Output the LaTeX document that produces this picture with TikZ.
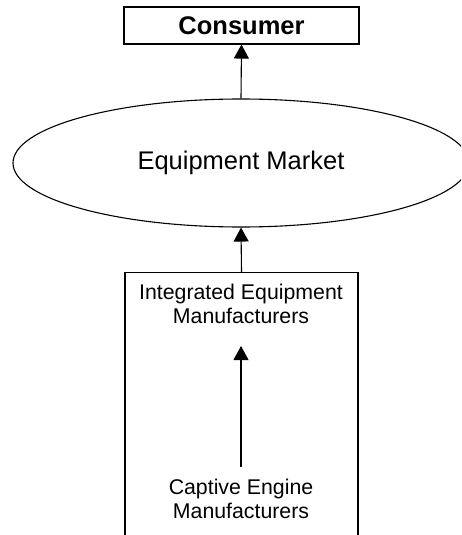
\documentclass[tikz,border=0pt]{standalone}
\usepackage{fontspec}
\setmainfont{Liberation Sans}
\usetikzlibrary{arrows.meta,shapes.geometric}
\tikzset{
  boxline/.style={draw=black, line width=1.1pt},
  conn/.style={line width=1.1pt, -{Triangle[length=14pt,width=15pt]}},
  bigfont/.style={font=\fontsize{25.5}{29}\selectfont},
  smallfont/.style={font=\fontsize{21.3}{24}\selectfont},
}
\begin{document}
\begin{tikzpicture}[x=1pt,y=-1pt]
\useasboundingbox (0,0) rectangle (461,535);
\clip (0,0) rectangle (461,535);
\node[boxline, rectangle, minimum width=235pt, minimum height=37pt, inner sep=0pt, bigfont]
  (consumer) at (241.5,25.5) {\textbf{Consumer}};
\node[boxline, ellipse, minimum width=456pt, minimum height=128pt, inner sep=0pt, bigfont]
  (market) at (241,163) {Equipment Market};
\node[boxline, rectangle, minimum width=233pt, minimum height=320pt, inner sep=0pt, anchor=north]
  (frame) at (241.5,272) {};
\node[smallfont, align=center, inner sep=0pt] (integrated) at (241,304) {Integrated Equipment\\Manufacturers};
\node[smallfont, align=center, inner sep=0pt] (captive) at (241,499) {Captive Engine\\Manufacturers};
\draw[conn] (market.north) -- (consumer.south);
\draw[conn] (frame.north) -- (market.south);
\draw[conn, shorten <=12pt, shorten >=22pt] (captive.north) -- (integrated.south);
\end{tikzpicture}
\end{document}
